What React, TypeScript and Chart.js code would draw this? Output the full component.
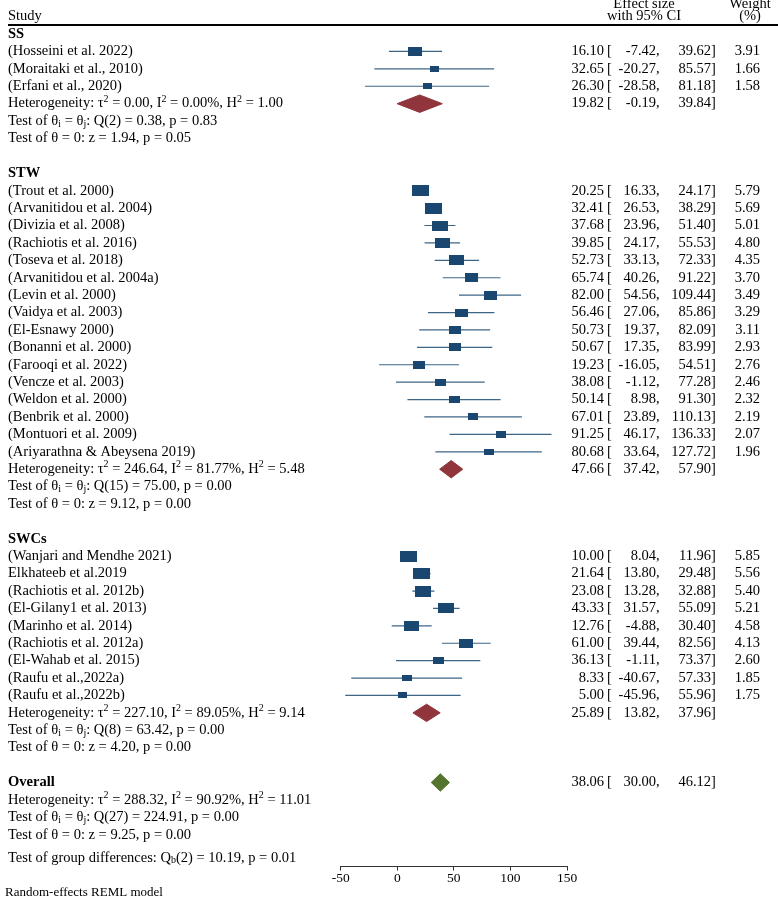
import React, { useEffect, useRef } from 'react';
import { Chart, registerables } from 'chart.js';

Chart.register(...registerables);

// ---------- data ----------
const groupNames = ['SS', 'STW', 'SWCs'];

const ssStudy = ['(Hosseini et al. 2022)', '(Moraitaki et al., 2010)', '(Erfani et al., 2020)'];
const ssEst = [16.1, 32.65, 26.3];
const ssLo = [-7.42, -20.27, -28.58];
const ssHi = [39.62, 85.57, 81.18];
const ssWeight = [3.91, 1.66, 1.58];

const stwStudy = [
  '(Trout et al. 2000)', '(Arvanitidou et al. 2004)', '(Divizia et al. 2008)', '(Rachiotis et al. 2016)',
  '(Toseva et al. 2018)', '(Arvanitidou et al. 2004a)', '(Levin et al. 2000)', '(Vaidya et al. 2003)',
  '(El-Esnawy 2000)', '(Bonanni et al. 2000)', '(Farooqi et al. 2022)', '(Vencze et al. 2003)',
  '(Weldon et al. 2000)', '(Benbrik et al. 2000)', '(Montuori et al. 2009)', '(Ariyarathna & Abeysena 2019)',
];
const stwEst = [20.25, 32.41, 37.68, 39.85, 52.73, 65.74, 82.0, 56.46, 50.73, 50.67, 19.23, 38.08, 50.14, 67.01, 91.25, 80.68];
const stwLo = [16.33, 26.53, 23.96, 24.17, 33.13, 40.26, 54.56, 27.06, 19.37, 17.35, -16.05, -1.12, 8.98, 23.89, 46.17, 33.64];
const stwHi = [24.17, 38.29, 51.4, 55.53, 72.33, 91.22, 109.44, 85.86, 82.09, 83.99, 54.51, 77.28, 91.3, 110.13, 136.33, 127.72];
const stwWeight = [5.79, 5.69, 5.01, 4.8, 4.35, 3.7, 3.49, 3.29, 3.11, 2.93, 2.76, 2.46, 2.32, 2.19, 2.07, 1.96];

const swcStudy = [
  '(Wanjari and Mendhe 2021)', 'Elkhateeb et al.2019', '(Rachiotis et al. 2012b)', '(El-Gilany1 et al. 2013)',
  '(Marinho et al. 2014)', '(Rachiotis et al. 2012a)', '(El-Wahab et al. 2015)', '(Raufu et al.,2022a)', '(Raufu et al.,2022b)',
];
const swcEst = [10.0, 21.64, 23.08, 43.33, 12.76, 61.0, 36.13, 8.33, 5.0];
const swcLo = [8.04, 13.8, 13.28, 31.57, -4.88, 39.44, -1.11, -40.67, -45.96];
const swcHi = [11.96, 29.48, 32.88, 55.09, 30.4, 82.56, 73.37, 57.33, 55.96];
const swcWeight = [5.85, 5.56, 5.4, 5.21, 4.58, 4.13, 2.6, 1.85, 1.75];

// summaries: SS, STW, SWCs, Overall
const summaryEst = [19.82, 47.66, 25.89, 38.06];
const summaryLo = [-0.19, 37.42, 13.82, 30.0];
const summaryHi = [39.84, 57.9, 37.96, 46.12];
const hetTau2 = [0.0, 246.64, 227.1, 288.32];
const hetI2 = [0.0, 81.77, 89.05, 90.92];
const hetH2 = [1.0, 5.48, 9.14, 11.01];
const qDf = [2, 15, 8, 27];
const qVal = [0.38, 75.0, 63.42, 224.91];
const qP = [0.83, 0.0, 0.0, 0.0];
const zVal = [1.94, 9.12, 4.2, 9.25];
const zP = [0.05, 0.0, 0.0, 0.0];
const groupDiffDf = 2;
const groupDiffQ = 10.19;
const groupDiffP = 0.01;

const xTicks = [-50, 0, 50, 100, 150];

// ---------- styles / layout ----------
const FONT = "'Liberation Serif', 'Times New Roman', serif";
const FS = 14.5;
const NAVY = '#1a476f';
const CI_COLOR = '#3d6586';
const MAROON = '#90353b';
const GREEN = '#55752f';

const X_LABEL = 8;
const X_EST_R = 604;
const X_BRACKET = 607;
const X_LO_R = 656;
const X_HI_R = 711;
const X_W_R = 760;
const X_HEAD_EFFECT = 644;
const X_HEAD_WEIGHT = 750;

type Seg = { t: string; k?: 'sub' | 'sup' };

function fmt(v: number) {
  return v.toFixed(2);
}

function drawRich(ctx: CanvasRenderingContext2D, segs: Seg[], x: number, y: number, size: number) {
  let cx = x;
  for (const s of segs) {
    if (s.k) {
      ctx.font = `${Math.round(size * 0.66)}px ${FONT}`;
      const dy = s.k === 'sub' ? 3 : -4.5;
      ctx.fillText(s.t, cx, y + dy);
      cx += ctx.measureText(s.t).width;
    } else {
      ctx.font = `${size}px ${FONT}`;
      ctx.fillText(s.t, cx, y);
      cx += ctx.measureText(s.t).width;
    }
  }
  ctx.font = `${size}px ${FONT}`;
}

function hetSegs(i: number): Seg[] {
  return [
    { t: 'Heterogeneity: τ' }, { t: '2', k: 'sup' },
    { t: ` = ${fmt(hetTau2[i])}, I` }, { t: '2', k: 'sup' },
    { t: ` = ${fmt(hetI2[i])}%, H` }, { t: '2', k: 'sup' },
    { t: ` = ${fmt(hetH2[i])}` },
  ];
}
function qSegs(i: number): Seg[] {
  return [
    { t: 'Test of θ' }, { t: 'i', k: 'sub' }, { t: ' = θ' }, { t: 'j', k: 'sub' },
    { t: `: Q(${qDf[i]}) = ${fmt(qVal[i])}, p = ${fmt(qP[i])}` },
  ];
}
function zSegs(i: number): Seg[] {
  return [{ t: `Test of θ = 0: z = ${fmt(zVal[i])}, p = ${fmt(zP[i])}` }];
}

type Study = { name: string; est: number; lo: number; hi: number; w: number; row: number };
type Summary = { idx: number; row: number; label?: string };

function buildLayout() {
  const groups = [
    { name: groupNames[0], study: ssStudy, est: ssEst, lo: ssLo, hi: ssHi, w: ssWeight },
    { name: groupNames[1], study: stwStudy, est: stwEst, lo: stwLo, hi: stwHi, w: stwWeight },
    { name: groupNames[2], study: swcStudy, est: swcEst, lo: swcLo, hi: swcHi, w: swcWeight },
  ];
  const studies: Study[] = [];
  const headers: { name: string; row: number }[] = [];
  const summaries: Summary[] = [];
  let r = 0;
  groups.forEach((g, gi) => {
    headers.push({ name: g.name, row: r });
    g.study.forEach((s, i) => {
      studies.push({ name: s, est: g.est[i], lo: g.lo[i], hi: g.hi[i], w: g.w[i], row: r + 1 + i });
    });
    summaries.push({ idx: gi, row: r + g.study.length + 1 });
    r = r + g.study.length + 5;
  });
  summaries.push({ idx: 3, row: r, label: 'Overall' });
  return { studies, headers, summaries, overallRow: r };
}

function makeRect(w: number) {
  const c = document.createElement('canvas');
  const wd = Math.max(2, Math.round(7 * Math.sqrt(w)));
  const ht = Math.max(2, Math.round(4.6 * Math.sqrt(w)));
  c.width = wd;
  c.height = ht;
  const g = c.getContext('2d')!;
  g.fillStyle = NAVY;
  g.fillRect(0, 0, wd, ht);
  return c;
}

export default function App() {
  const ref = useRef<HTMLCanvasElement | null>(null);

  useEffect(() => {
    if (!ref.current) return;
    const { studies, headers, summaries, overallRow } = buildLayout();

    const ciData: any[] = [];
    studies.forEach((s) => {
      ciData.push({ x: s.lo, y: s.row }, { x: s.hi, y: s.row }, { x: NaN, y: NaN });
    });

    const diamondSets = summaries.map((s) => ({
      type: 'line' as const,
      data: [
        { x: summaryLo[s.idx], y: s.row },
        { x: summaryEst[s.idx], y: s.row - 0.5 },
        { x: summaryHi[s.idx], y: s.row },
        { x: summaryEst[s.idx], y: s.row + 0.5 },
        { x: summaryLo[s.idx], y: s.row },
      ],
      borderColor: s.idx === 3 ? GREEN : MAROON,
      backgroundColor: s.idx === 3 ? GREEN : MAROON,
      borderWidth: 1,
      fill: 'shape',
      pointRadius: 0,
      tension: 0,
      order: 1,
    }));

    const textPlugin = {
      id: 'forestText',
      afterDraw(chart: any) {
        const ctx: CanvasRenderingContext2D = chart.ctx;
        const ys = chart.scales.y;
        const py = (r: number) => ys.getPixelForValue(r);
        ctx.save();
        ctx.fillStyle = '#000';
        ctx.textBaseline = 'middle';
        ctx.font = `${FS}px ${FONT}`;

        // header
        ctx.textAlign = 'left';
        ctx.fillText('Study', X_LABEL, py(-1));
        ctx.textAlign = 'center';
        ctx.fillText('Effect size', X_HEAD_EFFECT, py(-1.72));
        ctx.fillText('with 95% CI', X_HEAD_EFFECT, py(-1));
        ctx.fillText('Weight', X_HEAD_WEIGHT, py(-1.72));
        ctx.fillText('(%)', X_HEAD_WEIGHT, py(-1));
        ctx.strokeStyle = '#000';
        ctx.lineWidth = 2;
        ctx.beginPath();
        ctx.moveTo(X_LABEL, py(-0.52));
        ctx.lineTo(778, py(-0.52));
        ctx.stroke();

        const drawNums = (est: number, lo: number, hi: number, y: number, w?: number) => {
          ctx.font = `${FS}px ${FONT}`;
          ctx.textAlign = 'right';
          ctx.fillText(fmt(est), X_EST_R, y);
          ctx.fillText(fmt(lo), X_LO_R, y);
          ctx.fillText(fmt(hi), X_HI_R, y);
          if (w !== undefined) ctx.fillText(fmt(w), X_W_R, y);
          ctx.textAlign = 'left';
          ctx.fillText('[', X_BRACKET, y);
          ctx.fillText(',', X_LO_R, y);
          ctx.fillText(']', X_HI_R, y);
        };

        // group headers
        ctx.textAlign = 'left';
        headers.forEach((h) => {
          ctx.font = `bold ${FS}px ${FONT}`;
          ctx.fillText(h.name, X_LABEL, py(h.row));
        });
        ctx.font = `${FS}px ${FONT}`;

        studies.forEach((s) => {
          ctx.textAlign = 'left';
          ctx.font = `${FS}px ${FONT}`;
          ctx.fillText(s.name, X_LABEL, py(s.row));
          drawNums(s.est, s.lo, s.hi, py(s.row), s.w);
        });

        summaries.forEach((s) => {
          ctx.textAlign = 'left';
          if (s.label) {
            ctx.font = `bold ${FS}px ${FONT}`;
            ctx.fillText(s.label, X_LABEL, py(s.row));
            ctx.font = `${FS}px ${FONT}`;
            drawNums(summaryEst[s.idx], summaryLo[s.idx], summaryHi[s.idx], py(s.row));
            ctx.textAlign = 'left';
            drawRich(ctx, hetSegs(s.idx), X_LABEL, py(s.row + 1), FS);
            drawRich(ctx, qSegs(s.idx), X_LABEL, py(s.row + 2), FS);
            drawRich(ctx, zSegs(s.idx), X_LABEL, py(s.row + 3), FS);
          } else {
            drawRich(ctx, hetSegs(s.idx), X_LABEL, py(s.row), FS);
            drawRich(ctx, qSegs(s.idx), X_LABEL, py(s.row + 1), FS);
            drawRich(ctx, zSegs(s.idx), X_LABEL, py(s.row + 2), FS);
            drawNums(summaryEst[s.idx], summaryLo[s.idx], summaryHi[s.idx], py(s.row));
          }
        });

        ctx.textAlign = 'left';
        drawRich(
          ctx,
          [{ t: 'Test of group differences: Q' }, { t: 'b', k: 'sub' }, { t: `(${groupDiffDf}) = ${fmt(groupDiffQ)}, p = ${fmt(groupDiffP)}` }],
          X_LABEL,
          py(overallRow + 4.33),
          FS,
        );
        ctx.font = `13px ${FONT}`;
        ctx.fillText('Random-effects REML model', 5, py(overallRow + 6.35));
        ctx.restore();
      },
    };

    const chart = new Chart(ref.current, {
      type: 'scatter',
      data: {
        datasets: [
          {
            type: 'scatter',
            data: studies.map((s) => ({ x: s.est, y: s.row })),
            pointStyle: studies.map((s) => makeRect(s.w)) as any,
            pointRadius: 5,
            order: 0,
          } as any,
          ...(diamondSets as any[]),
          {
            type: 'line',
            data: ciData,
            borderColor: CI_COLOR,
            borderWidth: 1.2,
            pointRadius: 0,
            spanGaps: false,
            fill: false,
            tension: 0,
            order: 3,
          } as any,
        ],
      },
      options: {
        responsive: false,
        animation: false,
        events: [],
        layout: { padding: { left: 340.7, right: 211, top: 25, bottom: 11 } },
        plugins: { legend: { display: false }, tooltip: { enabled: false } },
        scales: {
          x: {
            type: 'linear',
            min: -50,
            max: 150,
            position: 'bottom',
            afterBuildTicks: (s: any) => {
              s.ticks = xTicks.map((v) => ({ value: v }));
            },
            ticks: {
              autoSkip: false,
              maxRotation: 0,
              padding: 1,
              color: '#000',
              font: { family: FONT, size: 13.5, lineHeight: 1.07 },
              callback: (v: any) => String(v),
            },
            grid: { display: true, drawOnChartArea: false, drawTicks: true, tickLength: 4, color: '#333', lineWidth: 1 },
            border: { display: true, color: '#333', width: 1 },
          },
          y: { type: 'linear', reverse: true, min: -0.52, max: 47.83, display: false },
        },
      },
      plugins: [textPlugin],
    });
    return () => chart.destroy();
  }, []);

  return (
    <div style={{ position: 'absolute', left: 0, top: 0, width: 778, height: 898, background: '#fff' }}>
      <canvas ref={ref} width={778} height={898} style={{ display: 'block' }} />
    </div>
  );
}
